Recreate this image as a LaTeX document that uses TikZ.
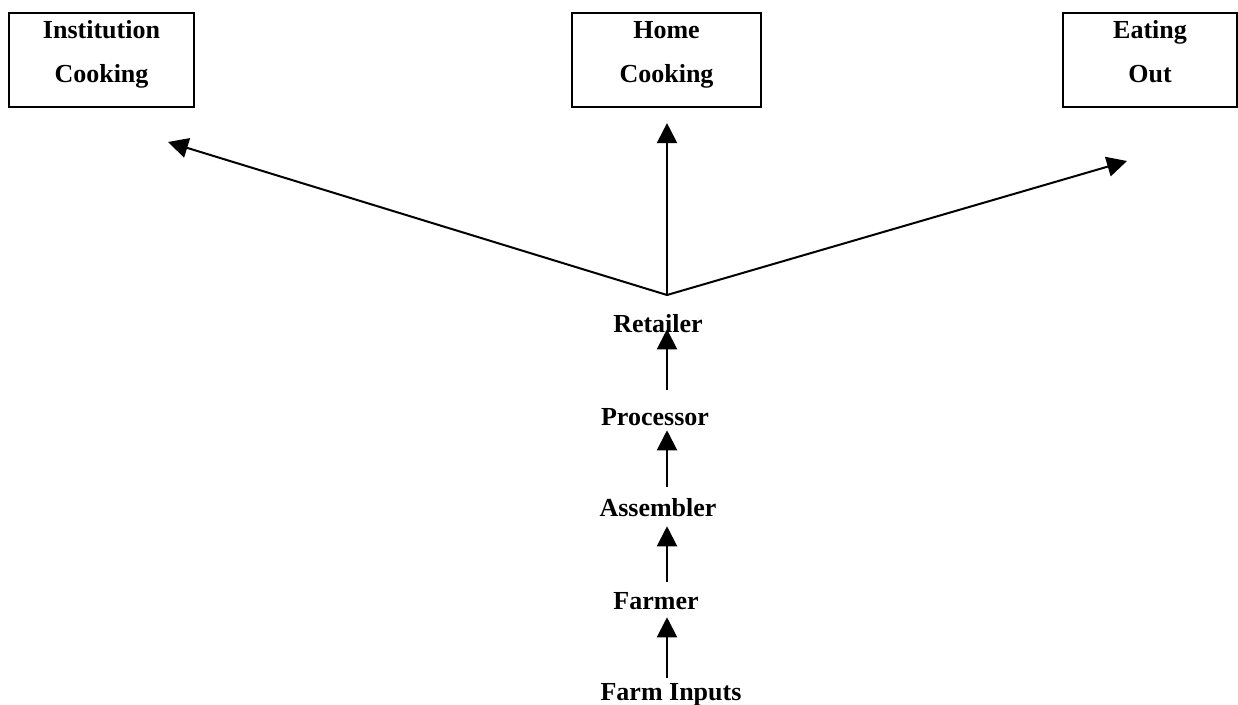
\documentclass[tikz,border=0pt]{standalone}
\usepackage{fontspec}
\setmainfont{Liberation Serif}
\usetikzlibrary{arrows.meta}
\newcommand{\boxstrut}{\rule[-14pt]{0pt}{28pt}}
\begin{document}
\begin{tikzpicture}[x=0.75pt,y=-0.75pt,
  every node/.style={font=\fontsize{19.5pt}{33pt}\selectfont\bfseries},
  catbox/.style={draw,line width=1.6pt,inner sep=0pt,minimum height=70.5pt,align=center},
  stage/.style={inner sep=0pt,anchor=base,text height=12.75pt,text depth=0pt},
  flow/.style={line width=1.5pt,-{Triangle[length=15pt,width=15pt]}}]
\useasboundingbox (0,0) rectangle (1238,704);
\node[catbox,minimum width=138.75pt] (inst) at (101.5,60) {\boxstrut Institution\\\boxstrut Cooking};
\node[catbox,minimum width=141.75pt] (home) at (666.5,60) {\boxstrut Home\\\boxstrut Cooking};
\node[catbox,minimum width=130.5pt] (eat) at (1150,60) {\boxstrut Eating\\\boxstrut Out};
\coordinate (hub) at (667,295);
\coordinate (instTip) at (168,142);
\coordinate (eatTip) at (1127,161);
\node[stage] (ret) at (658,332) {Retailer};
\node[stage] (proc) at (655,425) {Processor};
\node[stage] (asm) at (658,516) {Assembler};
\node[stage] (farmer) at (656,609) {Farmer};
\node[stage] (farmin) at (671,700) {Farm Inputs};
\draw[flow] (hub) -- (instTip);
\draw[flow,shorten >=11.25pt] (hub) -- (home.south -| hub);
\draw[flow] (hub) -- (eatTip);
\draw[flow,shorten <=13.5pt,shorten >=-2.25pt] (proc.north -| hub) -- (ret.south -| hub);
\draw[flow,shorten <=9pt,shorten >=3.75pt] (asm.north -| hub) -- (proc.south -| hub);
\draw[flow,shorten <=7.5pt,shorten >=7.5pt] (farmer.north -| hub) -- (asm.south -| hub);
\draw[flow,shorten <=3.75pt,shorten >=6pt] (farmin.north -| hub) -- (farmer.south -| hub);
\end{tikzpicture}
\end{document}
